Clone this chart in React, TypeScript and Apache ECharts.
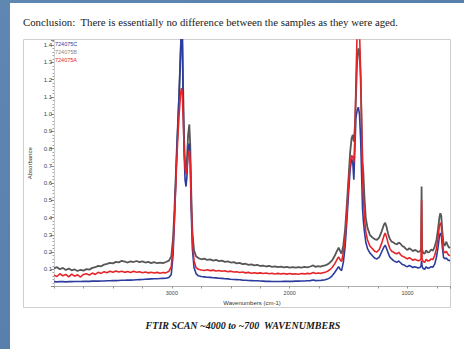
import React, { useEffect, useRef } from "react";
import * as echarts from "echarts";

const wavenumbers = [
  4000, 3975, 3950, 3925, 3900, 3875, 3850, 3825, 3800, 3775, 3750, 3725, 3700, 3675, 3650, 3625, 3600, 3575, 3550, 3525,
  3500, 3475, 3450, 3425, 3400, 3375, 3350, 3325, 3300, 3275, 3250, 3225, 3200, 3175, 3150, 3125, 3100, 3075, 3050, 3025,
  3005, 2990, 2978, 2968, 2958, 2948, 2938, 2928, 2920, 2912, 2904, 2896, 2888, 2880, 2872, 2862, 2852, 2844, 2836, 2826,
  2812, 2795, 2775, 2750, 2725, 2700, 2675, 2650, 2625, 2600, 2575, 2550, 2525, 2500, 2475, 2450, 2425, 2400, 2375, 2350,
  2325, 2300, 2275, 2250, 2225, 2200, 2175, 2150, 2125, 2100, 2075, 2050, 2025, 2000, 1975, 1950, 1925, 1900, 1875, 1850,
  1825, 1800, 1780, 1760, 1740, 1720, 1700, 1680, 1660, 1640, 1620, 1600, 1585, 1572, 1560, 1545, 1530, 1515, 1500, 1487,
  1475, 1465, 1456, 1447, 1438, 1428, 1418, 1408, 1398, 1390, 1382, 1375, 1366, 1355, 1340, 1320, 1300, 1280, 1260, 1240,
  1220, 1200, 1190, 1178, 1165, 1150, 1135, 1120, 1105, 1090, 1075, 1060, 1045, 1030, 1015, 1000, 985, 970, 955, 940,
  925, 910, 895, 886, 881, 877, 868, 855, 842, 830, 815, 800, 785, 770, 755, 742, 730, 722, 714, 705,
  695, 685, 672, 660, 648, 640,
];

// 724075B (gray)
const absB = [
  0.105, 0.112, 0.1, 0.108, 0.096, 0.104, 0.094, 0.099, 0.09, 0.097, 0.092, 0.101, 0.098, 0.108, 0.112, 0.12, 0.117, 0.127, 0.131, 0.137,
  0.134, 0.143, 0.14, 0.149, 0.145, 0.139, 0.146, 0.142, 0.148, 0.141, 0.146, 0.139, 0.143, 0.136, 0.141, 0.135, 0.139, 0.136, 0.142, 0.15,
  0.175, 0.28, 0.45, 0.62, 0.8, 0.96, 1.12, 1.32, 1.48, 1.48, 1.15, 0.85, 0.7, 0.66, 0.74, 0.88, 0.94, 0.82, 0.56, 0.32,
  0.21, 0.175, 0.165, 0.158, 0.162, 0.154, 0.157, 0.15, 0.154, 0.147, 0.15, 0.143, 0.146, 0.139, 0.141, 0.134, 0.137, 0.13, 0.132, 0.126,
  0.128, 0.122, 0.125, 0.119, 0.121, 0.116, 0.119, 0.114, 0.117, 0.112, 0.115, 0.111, 0.114, 0.11, 0.113, 0.109, 0.113, 0.11, 0.114, 0.111,
  0.116, 0.122, 0.114, 0.118, 0.115, 0.12, 0.122, 0.128, 0.138, 0.152, 0.175, 0.205, 0.225, 0.205, 0.19, 0.24, 0.33, 0.48, 0.64, 0.78,
  0.86, 0.88, 0.84, 0.93, 1.1, 1.3, 1.38, 1.37, 1.2, 0.95, 0.72, 0.66, 0.52, 0.4, 0.34, 0.3, 0.285, 0.275, 0.27, 0.285,
  0.32, 0.36, 0.37, 0.345, 0.305, 0.275, 0.26, 0.255, 0.248, 0.245, 0.255, 0.248, 0.235, 0.23, 0.218, 0.212, 0.222, 0.215, 0.205, 0.212,
  0.208, 0.2, 0.205, 0.215, 0.58, 0.215, 0.195, 0.19, 0.21, 0.198, 0.2, 0.215, 0.208, 0.23, 0.27, 0.33, 0.4, 0.425, 0.41, 0.32,
  0.25, 0.235, 0.26, 0.24, 0.225, 0.23,
];

// 724075C (blue)
const absC = [
  0.028, 0.027, 0.028, 0.028, 0.027, 0.028, 0.028, 0.029, 0.029, 0.029, 0.03, 0.03, 0.03, 0.031, 0.031, 0.031, 0.032, 0.032, 0.033, 0.033,
  0.034, 0.034, 0.035, 0.036, 0.036, 0.037, 0.037, 0.038, 0.039, 0.04, 0.041, 0.042, 0.043, 0.044, 0.045, 0.045, 0.046, 0.047, 0.048, 0.052,
  0.07, 0.18, 0.38, 0.58, 0.78, 0.95, 1.12, 1.32, 1.48, 1.48, 1.05, 0.78, 0.62, 0.58, 0.64, 0.8, 0.83, 0.72, 0.45, 0.22,
  0.11, 0.075, 0.062, 0.058, 0.056, 0.054, 0.053, 0.051, 0.05, 0.048, 0.047, 0.045, 0.044, 0.042, 0.041, 0.04, 0.039, 0.037, 0.036, 0.035,
  0.034, 0.033, 0.033, 0.032, 0.031, 0.03, 0.03, 0.029, 0.029, 0.029, 0.029, 0.03, 0.03, 0.03, 0.03, 0.031, 0.031, 0.032, 0.032, 0.033,
  0.034, 0.038, 0.034, 0.035, 0.035, 0.037, 0.039, 0.043, 0.05, 0.062, 0.08, 0.1, 0.115, 0.1, 0.092, 0.14, 0.23, 0.38, 0.55, 0.68,
  0.74, 0.72, 0.62, 0.8, 0.98, 1.02, 1.04, 1.0, 0.85, 0.65, 0.45, 0.38, 0.32, 0.26, 0.22, 0.195, 0.18, 0.165, 0.16, 0.17,
  0.2, 0.23, 0.24, 0.22, 0.195, 0.17, 0.16, 0.15, 0.145, 0.14, 0.148, 0.138, 0.128, 0.125, 0.118, 0.115, 0.122, 0.116, 0.11, 0.114,
  0.112, 0.108, 0.11, 0.118, 0.15, 0.118, 0.104, 0.1, 0.115, 0.106, 0.108, 0.115, 0.112, 0.13, 0.17, 0.225, 0.29, 0.31, 0.3, 0.23,
  0.17, 0.16, 0.165, 0.155, 0.15, 0.152,
];

// 724075A (red)
const absA = [
  0.066, 0.058, 0.074, 0.062, 0.07, 0.056, 0.072, 0.06, 0.068, 0.055, 0.07, 0.074, 0.066, 0.078, 0.07, 0.082, 0.076, 0.086, 0.08, 0.089,
  0.083, 0.09, 0.084, 0.088, 0.082, 0.087, 0.081, 0.088, 0.083, 0.086, 0.08, 0.084, 0.079, 0.083, 0.078, 0.082, 0.077, 0.081, 0.079, 0.088,
  0.115, 0.23, 0.4, 0.57, 0.74, 0.88, 1.0, 1.1, 1.15, 1.13, 0.98, 0.8, 0.69, 0.65, 0.69, 0.76, 0.79, 0.73, 0.5, 0.27,
  0.15, 0.11, 0.1, 0.096, 0.093, 0.097, 0.092, 0.095, 0.09, 0.093, 0.088, 0.091, 0.086, 0.089, 0.084, 0.086, 0.081, 0.084, 0.079, 0.082,
  0.077, 0.08, 0.076, 0.079, 0.075, 0.078, 0.074, 0.077, 0.073, 0.076, 0.073, 0.075, 0.072, 0.075, 0.072, 0.074, 0.071, 0.075, 0.073, 0.076,
  0.074, 0.081, 0.075, 0.078, 0.076, 0.08, 0.082, 0.088, 0.097, 0.11, 0.13, 0.155, 0.172, 0.155, 0.145, 0.195, 0.28, 0.43, 0.6, 0.72,
  0.76, 0.75, 0.72, 0.86, 1.2, 1.48, 1.48, 1.48, 1.25, 0.95, 0.65, 0.52, 0.4, 0.32, 0.27, 0.235, 0.22, 0.205, 0.2, 0.215,
  0.25, 0.295, 0.31, 0.285, 0.25, 0.22, 0.205, 0.2, 0.192, 0.19, 0.198, 0.185, 0.176, 0.172, 0.165, 0.16, 0.168, 0.16, 0.152, 0.158,
  0.154, 0.15, 0.152, 0.162, 0.5, 0.16, 0.145, 0.14, 0.158, 0.148, 0.15, 0.16, 0.156, 0.18, 0.22, 0.28, 0.35, 0.37, 0.355, 0.27,
  0.205, 0.195, 0.205, 0.19, 0.18, 0.182,
];

const seriesNames = ["724075C", "724075B", "724075A"];
const xTickLabels = [3000, 2000, 1000];
const yTickLabels = [0.1, 0.2, 0.3, 0.4, 0.5, 0.6, 0.7, 0.8, 0.9, 1.0, 1.1, 1.2, 1.3, 1.4];

const BLUE = "#2b3c9e";
const GRAY = "#575757";
const RED = "#e4262b";

export default function App() {
  const ref = useRef<HTMLDivElement>(null);

  useEffect(() => {
    if (!ref.current) return;
    const chart = echarts.init(ref.current, null, { renderer: "svg" });
    const pts = (vals: number[]) => wavenumbers.map((w, i) => [-w, vals[i]]);

    chart.setOption({
      animation: false,
      backgroundColor: {
        type: "linear",
        x: 0,
        y: 0,
        x2: 1,
        y2: 1,
        colorStops: [
          { offset: 0, color: "#6086b2" },
          { offset: 1, color: "#527aa6" },
        ],
      },
      graphic: [
        { type: "rect", z: 0, shape: { x: 10, y: 3, width: 460, height: 350 }, style: { fill: "#ffffff" } },
        {
          type: "rect",
          z: 0,
          shape: { x: 23.5, y: 39.5, width: 427, height: 268 },
          style: { fill: "none", stroke: "#cfcfcf", lineWidth: 1 },
        },
        {
          type: "text",
          z: 1,
          x: 23,
          y: 22,
          style: {
            text: "Conclusion:  There is essentially no difference between the samples as they were aged.",
            font: "10.8px 'Liberation Serif'",
            fill: "#1a1a1a",
            verticalAlign: "middle",
          },
        },
        {
          type: "text",
          z: 1,
          x: 243,
          y: 325,
          style: {
            text: "FTIR SCAN ~4000 to ~700  WAVENUMBERS",
            font: "italic bold 10px 'Liberation Serif'",
            fill: "#1a1a1a",
            align: "center",
            verticalAlign: "middle",
          },
        },
      ],
      legend: {
        orient: "vertical",
        left: 50,
        top: 41,
        itemWidth: 0,
        itemHeight: 5,
        itemGap: 2,
        icon: "rect",
        padding: 0,
        selectedMode: false,
        textStyle: { fontSize: 5.5, fontFamily: "Liberation Sans" },
        data: [
          { name: seriesNames[0], textStyle: { color: BLUE } },
          { name: seriesNames[1], textStyle: { color: "#8a8a8a" } },
          { name: seriesNames[2], textStyle: { color: RED } },
        ],
      },
      grid: { left: 54, right: 14, top: 40, bottom: 62.5, containLabel: false },
      xAxis: {
        type: "value",
        min: -4000,
        max: -640,
        interval: 250,
        name: "Wavenumbers (cm-1)",
        nameLocation: "middle",
        nameGap: 11,
        nameTextStyle: { fontSize: 6, color: "#333", fontFamily: "Liberation Sans", verticalAlign: "top" },
        axisLine: { show: true, lineStyle: { color: "#9a9a9a", width: 0.8 } },
        axisTick: { show: true, length: 2, lineStyle: { color: "#777", width: 0.8 } },
        axisLabel: {
          fontSize: 5.5,
          color: "#444",
          margin: 3,
          fontFamily: "Liberation Sans",
          formatter: (v: number) => (xTickLabels.includes(-v) ? String(-v) : ""),
        },
        splitLine: { show: false },
      },
      yAxis: {
        type: "value",
        min: 0,
        max: 1.43,
        interval: 0.1,
        name: "Absorbance",
        nameLocation: "middle",
        nameGap: 21,
        nameTextStyle: { fontSize: 6, color: "#333", fontFamily: "Liberation Sans" },
        axisLine: { show: true, lineStyle: { color: "#b0b0b0", width: 0.6, type: "dotted" } },
        axisTick: { show: true, length: 3, lineStyle: { color: "#666", width: 0.8 } },
        minorTick: { show: true, splitNumber: 5, length: 1.5, lineStyle: { color: "#888", width: 0.8 } },
        axisLabel: {
          fontSize: 6,
          color: "#444",
          margin: 2,
          fontFamily: "Liberation Sans",
          formatter: (v: number) => {
            const r = Math.round(v * 10) / 10;
            return Math.abs(r - v) < 0.001 && yTickLabels.includes(r) ? r.toFixed(1) : "";
          },
        },
        splitLine: { show: false },
      },
      series: [
        {
          name: seriesNames[1],
          type: "line",
          data: pts(absB),
          symbol: "none",
          clip: true,
          lineStyle: { color: GRAY, width: 1.8 },
          itemStyle: { color: GRAY },
          z: 2,
        },
        {
          name: seriesNames[0],
          type: "line",
          data: pts(absC),
          symbol: "none",
          clip: true,
          lineStyle: { color: BLUE, width: 1.6 },
          itemStyle: { color: BLUE },
          z: 3,
        },
        {
          name: seriesNames[2],
          type: "line",
          data: pts(absA),
          symbol: "none",
          clip: true,
          lineStyle: { color: RED, width: 1.6 },
          itemStyle: { color: RED },
          z: 4,
        },
      ],
    });
    return () => chart.dispose();
  }, []);

  return (
    <div
      ref={ref}
      style={{ position: "fixed", left: 0, top: 0, width: 464, height: 349 }}
    />
  );
}
